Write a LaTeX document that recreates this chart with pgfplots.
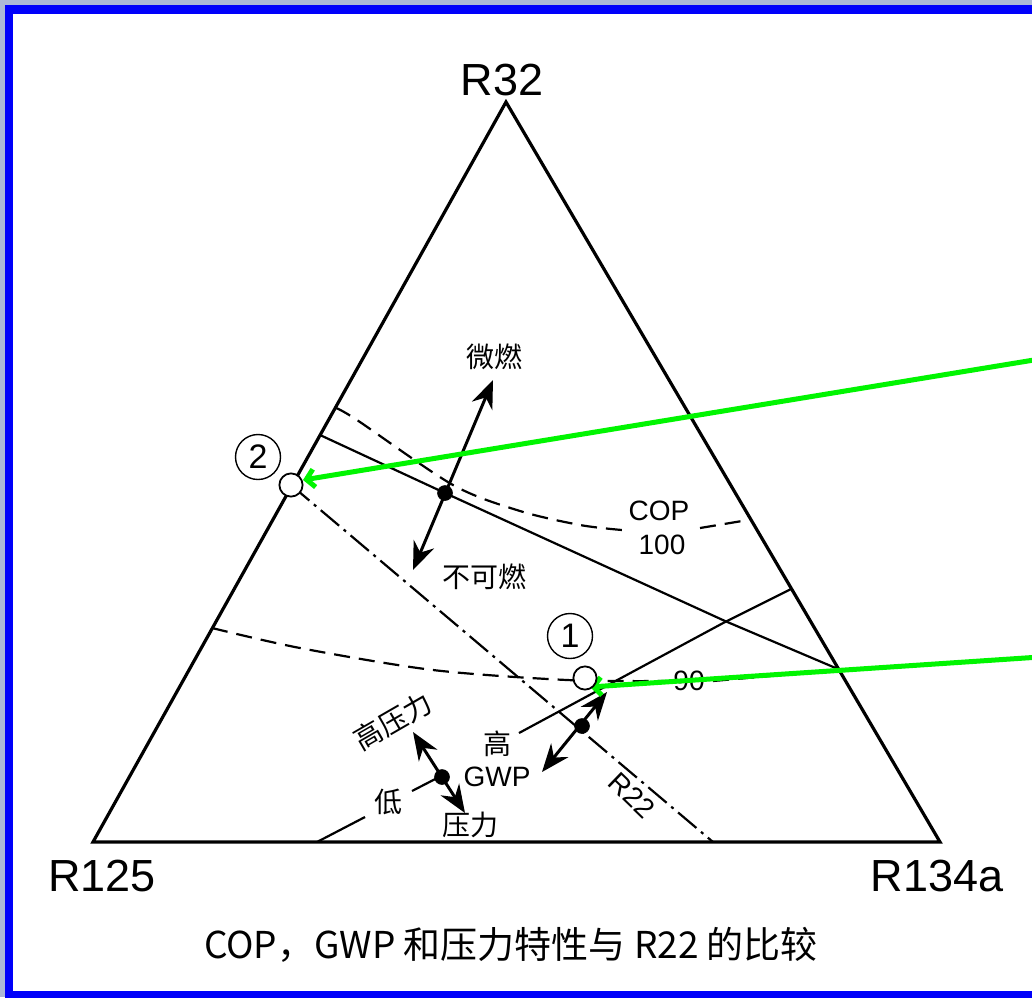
\documentclass[border=0pt]{standalone}
\usepackage{pgfplots}
\pgfplotsset{compat=1.18}
\usetikzlibrary{arrows.meta}
\usepackage{fontspec}
\setmainfont{Liberation Sans}
\newfontfamily\cjk{Noto Sans CJK SC}
\definecolor{frameblue}{RGB}{0,0,250}
\definecolor{outerbg}{RGB}{172,184,214}
\definecolor{arrowgreen}{RGB}{0,245,0}
\newcommand\VtxFont{\fontsize{22.5}{26}\selectfont}
\newcommand\LblFont{\fontsize{14}{16}\selectfont}
\newcommand\NumFont{\fontsize{17}{19}\selectfont}
\newcommand\CjkFont{\cjk\fontsize{14}{16}\selectfont}
\tikzset{dbl/.style={line width=1.5pt,{Stealth[length=14pt,width=11pt]}-{Stealth[length=14pt,width=11pt]}}}
\begin{document}
\begin{tikzpicture}
\begin{axis}[
  scale only axis, width=516pt, height=498.5pt,
  xmin=0, xmax=1032, ymin=0, ymax=997, y dir=reverse,
  axis lines=none, xtick=\empty, ytick=\empty,
  clip=true,
]
% background and frame
\fill[outerbg] (axis cs:0,0) rectangle (axis cs:1032,997);
\fill[frameblue] (axis cs:5,5) rectangle (axis cs:1040,1000);
\fill[white] (axis cs:13,14) rectangle (axis cs:1040,991);

% triangle
\addplot[black, line width=1.6pt, line join=miter] coordinates {(500,842) (940,842) (506,102) (93,842) (500,842)};

% COP 100 dashed isoline
\addplot[black, line width=1.1pt, dash pattern=on 8pt off 4.5pt, smooth] coordinates {(336,408) (357,420) (453,485) (520,511) (580,525) (622,530)};
\addplot[black, line width=1.1pt, dash pattern=on 8pt off 4.5pt] coordinates {(700,528) (748,520)};

% COP 90 dashed isoline
\addplot[black, line width=1.1pt, dash pattern=on 8pt off 4.5pt, smooth] coordinates {(212,628) (300,648) (433,670) (567,680) (665,681)};
\addplot[black, line width=1.1pt, dash pattern=on 8pt off 4.5pt] coordinates {(713,681) (838,670)};

% flammability boundary (solid)
\addplot[black, line width=1.1pt] coordinates {(320,435) (445,493) (725,621) (838,669)};

% GWP / pressure isoline (solid, with gaps for text)
\addplot[black, line width=1.1pt] coordinates {(317,842) (365,817)};
\addplot[black, line width=1.1pt] coordinates {(412,791) (443,775)};
\addplot[black, line width=1.1pt] coordinates {(519,733) (725,622) (791,589)};

% R22 dash-dot line
\addplot[black, line width=1.1pt, dash pattern=on 12pt off 3pt on 1.5pt off 3pt] coordinates {(291,485) (713,842)};

% double arrows
\addplot[black, dbl] coordinates {(413,570) (493,380)};
\addplot[black, dbl] coordinates {(413,732) (465,813)};
\addplot[black, dbl] coordinates {(542,772) (607,692)};

% black dots
\addplot[only marks, mark=*, mark size=3.7pt, black] coordinates {(445,493) (442,777) (582,726)};

% open circles (points 1 and 2)
\addplot[only marks, mark=*, mark size=5.8pt, mark options={fill=white, draw=black, line width=0.9pt}] coordinates {(291,485) (585,678)};

% text labels
\node[font=\VtxFont] at (axis cs:502,80) {R32};
\node[font=\VtxFont] at (axis cs:102,876) {R125};
\node[font=\VtxFont] at (axis cs:937,876) {R134a};

\node[font=\CjkFont] at (axis cs:494,357) {微燃};
\node[font=\CjkFont] at (axis cs:484,577) {不可燃};
\node[font=\LblFont] at (axis cs:659,511) {COP};
\node[font=\LblFont] at (axis cs:662,545) {100};
\node[font=\LblFont] at (axis cs:689,681) {90};
\node[font=\CjkFont, rotate=30] at (axis cs:393,721) {高压力};
\node[font=\CjkFont] at (axis cs:497,744) {高};
\node[font=\LblFont] at (axis cs:497,777) {GWP};
\node[font=\CjkFont] at (axis cs:388,802) {低};
\node[font=\CjkFont] at (axis cs:470,825) {压力};
\node[font=\LblFont, rotate=-44, fill=white, inner sep=1pt] at (axis cs:632,795) {R22};

\node[draw, circle, line width=0.7pt, minimum size=22.5pt, inner sep=0pt, font=\NumFont] at (axis cs:258,457) {2};
\node[draw, circle, line width=0.7pt, minimum size=22.5pt, inner sep=0pt, font=\NumFont] at (axis cs:570,636) {1};

% caption
\node[font=\cjk\fontsize{18.5}{21}\selectfont] at (axis cs:511,945) {COP，GWP 和压力特性与 R22 的比较};

% green pointer arrows
\addplot[arrowgreen, line width=2.5pt, -{Straight Barb[length=4pt,width=9pt]}] coordinates {(1040,359) (303,480)};
\addplot[arrowgreen, line width=2.5pt, -{Straight Barb[length=4pt,width=9pt]}] coordinates {(1040,657) (590,687)};
\end{axis}
\end{tikzpicture}
\end{document}
